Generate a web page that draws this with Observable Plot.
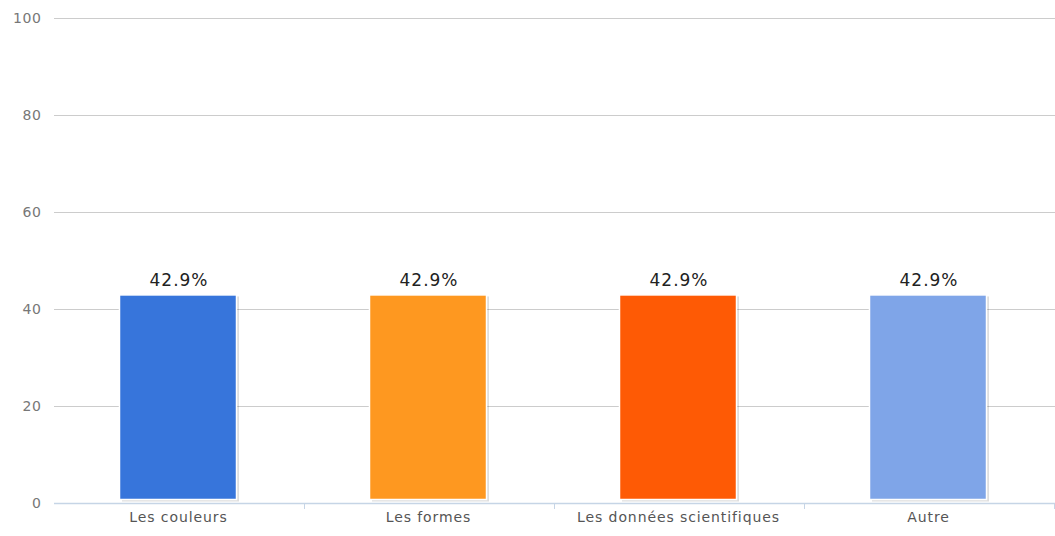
<!DOCTYPE html>
<html>
<head>
<meta charset="utf-8">
<script src="https://cdn.jsdelivr.net/npm/d3@7"></script>
<script src="https://cdn.jsdelivr.net/npm/@observablehq/plot@0.6"></script>
<style>
  html, body { margin: 0; padding: 0; background: #fff; }
  #chart svg { display: block; font-family: "DejaVu Sans", sans-serif; }
  #chart g[aria-label="y-axis tick label"] text { letter-spacing: 0.6px; }
  #chart g[aria-label="x-axis tick label"] text { letter-spacing: 0.9px; }
  #chart g[aria-label="text"] text { letter-spacing: 1px; }
</style>
</head>
<body>
<div id="chart"></div>
<script>
const categories = ["Les couleurs", "Les formes", "Les données scientifiques", "Autre"];
const values = [42.9, 42.9, 42.9, 42.9];
const colors = ["#3775db", "#fe9820", "#fe5a05", "#7fa5e8"];
const yTicks = [0, 20, 40, 60, 80, 100];

const data = categories.map((c, i) => ({category: c, value: values[i], color: colors[i]}));

const plot = Plot.plot({
  width: 1055,
  height: 536,
  marginLeft: 54,
  marginRight: 0,
  marginTop: 18,
  marginBottom: 33,
  style: {fontFamily: "DejaVu Sans, sans-serif", background: "#fff"},
  x: {domain: categories, paddingInner: 0.5325, paddingOuter: 0.266, label: null},
  y: {domain: [0, 100], label: null},
  marks: [
    Plot.gridY(yTicks.filter(d => d > 0), {stroke: "#cccccc", strokeOpacity: 1, strokeWidth: 1}),
    Plot.ruleY([0], {stroke: "#c6d5e6", strokeWidth: 1.5}),
    Plot.axisY(yTicks, {tickSize: 0, tickPadding: 13, fontSize: 14, fill: "#777", label: null}),
    Plot.axisX({tickSize: 0, tickPadding: 9, fontSize: 14, fill: "#555", label: null, dx: -1.5}),
    Plot.barY(data, {x: "category", y: "value", fill: "#000", fillOpacity: 0.13, dx: 1, dy: 1.5, insetBottom: 3}),
    Plot.barY(data, {x: "category", y: "value", fill: "color", stroke: "#fff", strokeWidth: 1.5, insetBottom: 3.5, dx: -1.5}),
    Plot.text(data, {x: "category", y: "value", text: d => d.value.toFixed(1) + "%", dy: -15, dx: -1, fontSize: 17, fill: "#222"})
  ]
});

// band-boundary ticks on the x axis, derived from the band scale
const sx = plot.scale("x");
const sy = plot.scale("y");
const y0 = sy.apply(0);
const gap = (sx.step - sx.bandwidth) / 2;
const boundaries = sx.domain.map(d => sx.apply(d) - gap);
boundaries.push(sx.apply(sx.domain[sx.domain.length - 1]) + sx.bandwidth + gap);
d3.select(plot).append("g")
  .selectAll("line").data(boundaries.slice(1)).join("line")
  .attr("x1", d => d).attr("x2", d => d)
  .attr("y1", y0).attr("y2", y0 + 6)
  .attr("stroke", "#c6d5e6").attr("stroke-width", 1);

document.getElementById("chart").appendChild(plot);
</script>
</body>
</html>
